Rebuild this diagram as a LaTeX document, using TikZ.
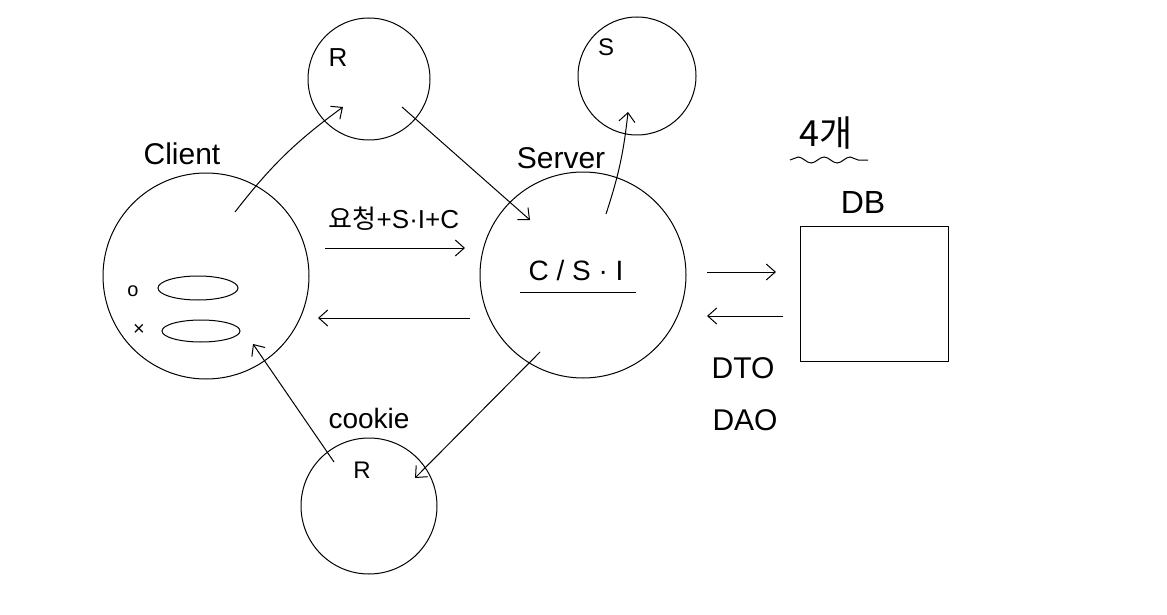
\documentclass[tikz,border=0pt]{standalone}
\usepackage{fontspec}
\setmainfont{Liberation Sans}
\newfontfamily\kofont{Noto Sans CJK KR}
\usetikzlibrary{arrows.meta,decorations.pathmorphing,shapes.geometric}
\begin{document}
\begin{tikzpicture}[x=1pt,y=-1pt,line width=1pt,
  bubble/.style={draw,circle,inner sep=0pt},
  lbl/.style={inner sep=0pt,font=\fontsize{#1}{#1}\selectfont},
  lbl/.default=30,
  arr/.style={-{Straight Barb[length=9pt,width=16pt]}},
  pill/.style={draw,ellipse,inner sep=0pt}]
\useasboundingbox[fill=white] (0,0) rectangle (1167,615);

% circles
\node[bubble,minimum size=206pt] (client) at (206,276) {};
\node[bubble,minimum size=122pt] (rtop)   at (369,79)  {};
\node[bubble,minimum size=118pt] (s)      at (637,76)  {};
\node[bubble,minimum size=206pt] (server) at (583,275) {};
\node[bubble,minimum size=136pt] (rbot)   at (369,506) {};

% database box
\node[draw,minimum width=148pt,minimum height=135pt,inner sep=0pt] (db) at (874,294) {};

% labels
\node[lbl=30] (tclient) at (182,154) {Client};
\node[lbl=26] (trtop)   at (338,58)  {R};
\node[lbl=24] (ts)      at (606,47)  {S};
\node[lbl=30] (tserver) at (561,158) {Server};
\node[lbl=28] (tcookie) at (369,418) {cookie};
\node[lbl=24] (trbot)   at (362,470) {R};
\node[lbl=32] (tdb)     at (863,202) {DB};
\node[lbl=30] (tdto)    at (743,368) {DTO};
\node[lbl=30] (tdao)    at (745,420) {DAO};
\node[lbl=26] (treq)    at (394,219) {{\kofont 요청}+S·I+C};
\node[lbl=28] (tcsi)    at (576,270) {C / S · I};
\node[lbl=36] (tfour)   at (826,133) {{\kofont 4개}};

% underlines
\coordinate (u1) at (520,292); \coordinate (u2) at (636,292);
\draw (u1) -- (u2);
\coordinate (w1) at (790,160); \coordinate (w2) at (868,160);
\draw[decorate,decoration={snake,amplitude=3pt,segment length=26pt}] (w1) -- (w2);

% client contents
\node[lbl=20] (mo) at (133,291) {o};
\node[pill,minimum width=80pt,minimum height=24pt] (p1) at (198,288) {};
\node[lbl=20] (mx) at (139,330) {×};
\node[pill,minimum width=78pt,minimum height=22pt] (p2) at (201,331) {};

% connector end points
\coordinate (c1) at (235,212);  \coordinate (c2) at (343,107);
\coordinate (r1) at (402,107);  \coordinate (r2) at (530,220);
\coordinate (v1) at (606,214);  \coordinate (v2) at (628,112);
\coordinate (q1) at (325,248);  \coordinate (q2) at (465,248);
\coordinate (a1) at (470,318);  \coordinate (a2) at (318,318);
\coordinate (b1) at (540,352);  \coordinate (b2) at (415,478);
\coordinate (k1) at (334,462);  \coordinate (k2) at (253,344);
\coordinate (d1) at (707,272);  \coordinate (d2) at (776,272);
\coordinate (e1) at (783,316);  \coordinate (e2) at (707,316);

% connectors
\draw[arr] (c1) to[bend left=8] (c2);
\draw[arr] (r1) -- (r2);
\draw[arr] (v1) to[bend right=6] (v2);
\draw[arr] (q1) -- (q2);
\draw[arr] (a1) -- (a2);
\draw[arr] (b1) -- (b2);
\draw[arr] (k1) -- (k2);
\draw[arr] (d1) -- (d2);
\draw[arr] (e1) -- (e2);
\end{tikzpicture}
\end{document}
